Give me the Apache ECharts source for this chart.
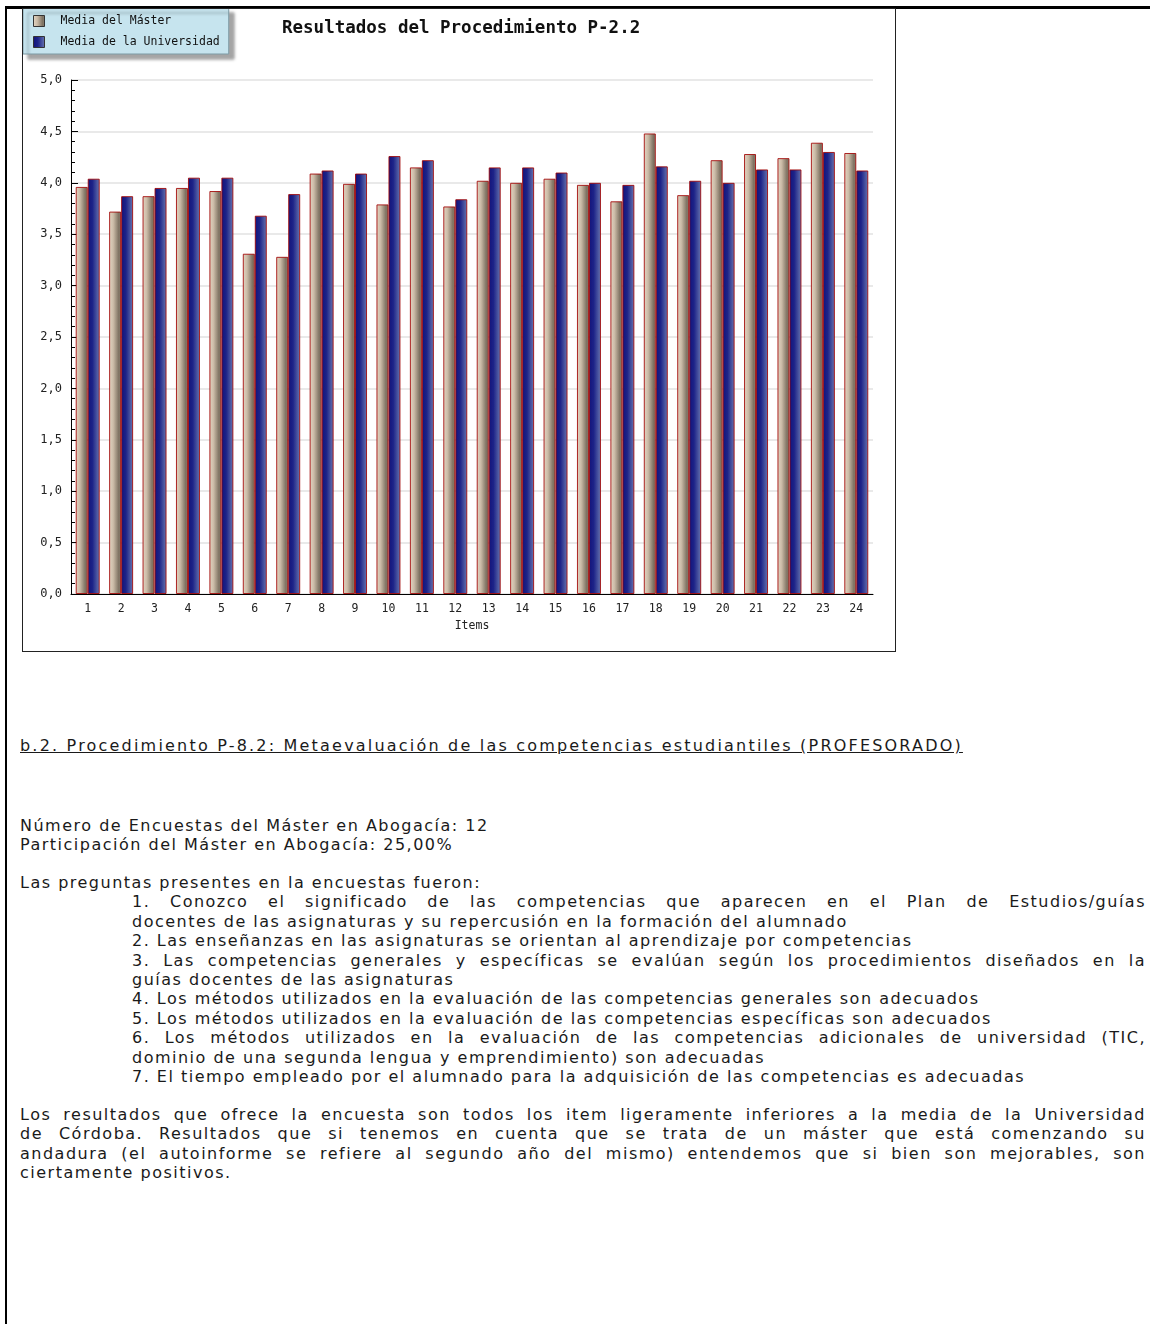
<!DOCTYPE html>
<html>
<head>
<meta charset="utf-8">
<script src="https://cdn.jsdelivr.net/npm/echarts@6/dist/echarts.min.js"></script>
<style>
  body { margin: 0; background: #fff; width: 1150px; height: 1324px; position: relative; overflow: hidden; }
  #top-line { position: absolute; left: 5px; top: 6px; width: 1145px; height: 3px; background: #000; }
  #left-line { position: absolute; left: 5px; top: 6px; width: 2px; height: 1318px; background: #000; }
  #chart-box { position: absolute; left: 22px; top: 8px; width: 872px; height: 642px; border: 1px solid #222; background: #fff; }
  #chart { width: 872px; height: 642px; }
  .txt {
    position: absolute; left: 20px; width: 1126px;
    font-family: 'DejaVu Sans', sans-serif; font-size: 16px; letter-spacing: 1.5px;
    color: #1a1a1a; line-height: 19.4px; white-space: nowrap;
  }
  .txt div { height: 19.4px; overflow: visible; }
  .j { text-align: justify; text-align-last: justify; }
  .ind { padding-left: 112px; }
  .u { text-decoration: underline; letter-spacing: 2.2px; }
</style>
</head>
<body>
<div id="top-line"></div>
<div id="left-line"></div>
<div id="chart-box"><div id="chart"></div></div>

<div class="txt u" id="heading" style="top:736px"></div>
<div class="txt" id="block-a" style="top:816px"></div>
<div class="txt" id="block-b" style="top:873px"></div>
<div class="txt" id="block-c" style="top:1105px"></div>

<script>
// chart data
const items = ['1', '2', '3', '4', '5', '6', '7', '8', '9', '10', '11', '12',
  '13', '14', '15', '16', '17', '18', '19', '20', '21', '22', '23', '24'];
const mediaMaster = [3.96, 3.72, 3.87, 3.95, 3.92, 3.31, 3.28, 4.09, 3.99, 3.79, 4.15, 3.77,
  4.02, 4.00, 4.04, 3.98, 3.82, 4.48, 3.88, 4.22, 4.28, 4.24, 4.39, 4.29];
const mediaUniversidad = [4.04, 3.87, 3.95, 4.05, 4.05, 3.68, 3.89, 4.12, 4.09, 4.26, 4.22, 3.84,
  4.15, 4.15, 4.10, 4.00, 3.98, 4.16, 4.02, 4.00, 4.13, 4.13, 4.30, 4.12];
const seriesNames = ['Media del Máster', 'Media de la Universidad'];
const chartTitle = 'Resultados del Procedimiento P-2.2';

// page text, one entry per printed line ([text, justified?])
const headingText = 'b.2. Procedimiento P-8.2: Metaevaluación de las competencias estudiantiles (PROFESORADO)';
const encuestaLines = [
  'Número de Encuestas del Máster en Abogacía: 12',
  'Participación del Máster en Abogacía: 25,00%'
];
const preguntasIntro = 'Las preguntas presentes en la encuestas fueron:';
const preguntasLines = [
  ['1. Conozco el significado de las competencias que aparecen en el Plan de Estudios/guías', true],
  ['docentes de las asignaturas y su repercusión en la formación del alumnado', false],
  ['2. Las enseñanzas en las asignaturas se orientan al aprendizaje por competencias', false],
  ['3. Las competencias generales y específicas se evalúan según los procedimientos diseñados en la', true],
  ['guías docentes de las asignaturas', false],
  ['4. Los métodos utilizados en la evaluación de las competencias generales son adecuados', false],
  ['5. Los métodos utilizados en la evaluación de las competencias específicas son adecuados', false],
  ['6. Los métodos utilizados en la evaluación de las competencias adicionales de universidad (TIC,', true],
  ['dominio de una segunda lengua y emprendimiento) son adecuadas', false],
  ['7. El tiempo empleado por el alumnado para la adquisición de las competencias es adecuadas', false]
];
const resultadosLines = [
  ['Los resultados que ofrece la encuesta son todos los item ligeramente inferiores a la media de la Universidad', true],
  ['de Córdoba. Resultados que si tenemos en cuenta que se trata de un máster que está comenzando su', true],
  ['andadura (el autoinforme se refiere al segundo año del mismo) entendemos que si bien son mejorables, son', true],
  ['ciertamente positivos.', false]
];

function addLine(parent, text, justify, indent) {
  const d = document.createElement('div');
  d.textContent = text;
  if (justify) d.className = 'j';
  if (indent) d.classList.add('ind');
  parent.appendChild(d);
  return d;
}

document.getElementById('heading').textContent = headingText;
const blockA = document.getElementById('block-a');
encuestaLines.forEach((t) => addLine(blockA, t, false, false));
const blockB = document.getElementById('block-b');
addLine(blockB, preguntasIntro, false, false);
preguntasLines.forEach(([t, j]) => addLine(blockB, t, j, true));
const blockC = document.getElementById('block-c');
resultadosLines.forEach(([t, j]) => addLine(blockC, t, j, false));

// if a justified line does not fit, tighten it
document.querySelectorAll('.txt div').forEach((d) => {
  let ls = 1.5;
  while (d.scrollWidth > d.clientWidth + 1 && ls > -1) {
    ls -= 0.1;
    d.style.letterSpacing = ls + 'px';
  }
});

const mono = 'DejaVu Sans Mono, monospace';

const masterGradient = new echarts.graphic.LinearGradient(0, 0, 1, 0, [
  { offset: 0, color: '#e4d6c4' },
  { offset: 0.35, color: '#cbbba7' },
  { offset: 0.8, color: '#7e7262' },
  { offset: 1, color: '#8c8070' }
]);
const univGradient = new echarts.graphic.LinearGradient(0, 0, 1, 0, [
  { offset: 0, color: '#12127a' },
  { offset: 0.4, color: '#1d2388' },
  { offset: 1, color: '#6876b0' }
]);

const option = {
  backgroundColor: '#fff',
  animation: false,
  title: {
    text: chartTitle,
    left: 259,
    top: 10,
    padding: 0,
    textStyle: {
      fontFamily: mono,
      fontSize: 17.5,
      fontWeight: 'bold',
      color: '#111',
    },
  },
  legend: {
    orient: 'vertical',
    left: 0,
    top: -1,
    padding: [7, 9, 6, 10],
    itemGap: 9,
    itemWidth: 11,
    itemHeight: 11,
    icon: 'rect',
    backgroundColor: '#c6e4ee',
    borderColor: '#7c9aa4',
    borderWidth: 1,
    shadowColor: 'rgba(0, 0, 0, 0.35)',
    shadowBlur: 3,
    shadowOffsetX: 5,
    shadowOffsetY: 5,
    itemStyle: {
      borderColor: '#333',
      borderWidth: 1,
    },
    textStyle: {
      fontFamily: mono,
      fontSize: 11.5,
      color: '#111',
      padding: [0, 0, 0, 11],
    },
    data: seriesNames,
  },
  grid: {
    left: 48,
    right: 22,
    top: 71,
    bottom: 57,
  },
  xAxis: {
    type: 'category',
    data: items,
    name: 'Items',
    nameLocation: 'middle',
    nameGap: 26,
    nameTextStyle: {
      fontFamily: mono,
      fontSize: 11.5,
      color: '#222',
    },
    axisLine: { lineStyle: { color: '#000', width: 1 } },
    axisTick: { inside: true, length: 5, lineStyle: { color: '#000' } },
    axisLabel: {
      margin: 9,
      fontFamily: mono,
      fontSize: 11.5,
      color: '#222',
    },
  },
  yAxis: {
    type: 'value',
    min: 0,
    max: 5,
    interval: 0.5,
    axisLine: { show: true, lineStyle: { color: '#000', width: 1 } },
    axisTick: { show: true, inside: true, length: 7, lineStyle: { color: '#000' } },
    minorTick: { show: true, splitNumber: 5, length: 4, lineStyle: { color: '#000' } },
    axisLabel: {
      margin: 9,
      fontFamily: mono,
      fontSize: 12,
      color: '#222',
      formatter: (v) => v.toFixed(1).replace('.', ','),
    },
    splitLine: { show: true, lineStyle: { color: '#e2e2e2', width: 1.5 } },
  },
  series: [
    {
      name: seriesNames[0],
      type: 'bar',
      data: mediaMaster,
      barWidth: 12,
      barGap: '0%',
      itemStyle: {
        color: masterGradient,
        borderColor: 'rgba(160, 0, 0, 0.85)',
        borderWidth: 1,
      },
    },
    {
      name: seriesNames[1],
      type: 'bar',
      data: mediaUniversidad,
      barWidth: 12,
      barGap: '0%',
      itemStyle: {
        color: univGradient,
        borderColor: 'rgba(160, 0, 0, 0.85)',
        borderWidth: 1,
      },
    },
  ],
};

const chart = echarts.init(document.getElementById('chart'));
chart.setOption(option);
</script>
</body>
</html>
